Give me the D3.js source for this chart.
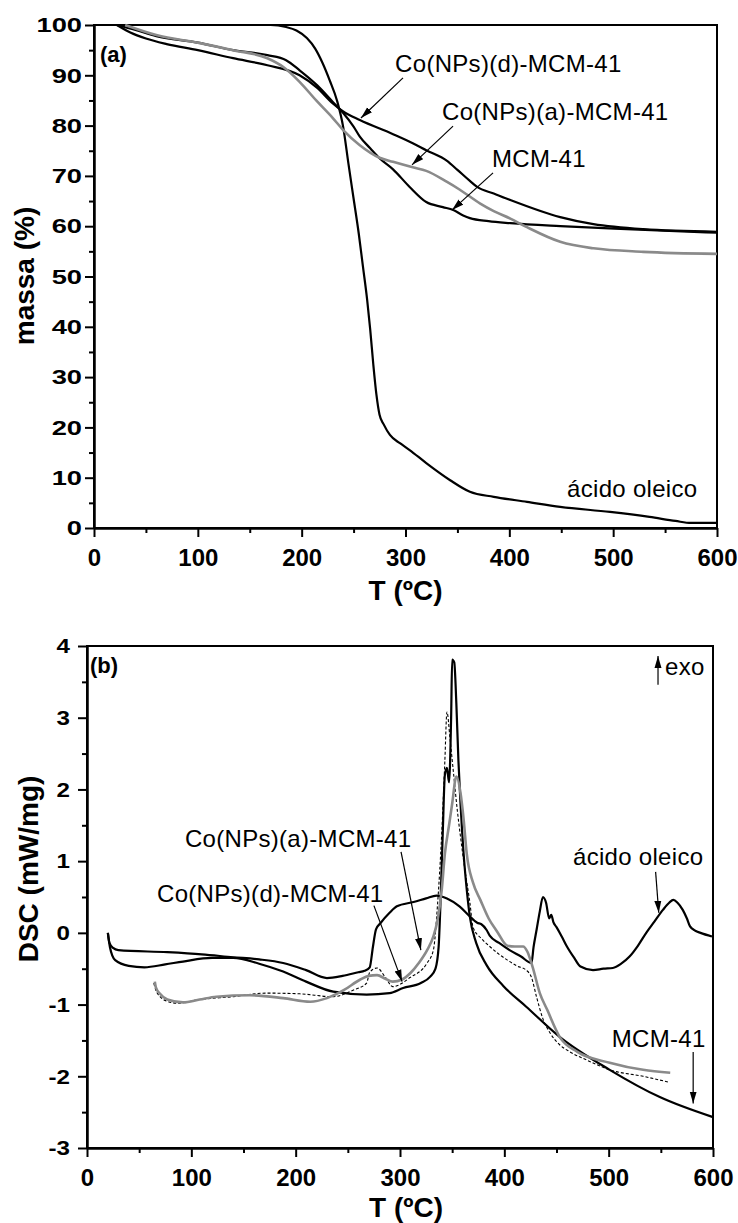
<!DOCTYPE html>
<html>
<head>
<meta charset="utf-8">
<script src="https://cdn.jsdelivr.net/npm/d3@7"></script>
<style>
  body { margin: 0; background: #fff; }
  text { font-family: "Liberation Sans", Arial, Helvetica, sans-serif; }
</style>
</head>
<body>
<svg id="fig" width="738" height="1223"></svg>
<script>
// ---------- (a) TGA: [T (°C), massa (%)] ----------
const tgaOleic = [[22,100],[60,100],[120,100],[170,100],[185,99.6],[195,98.9],[205,97.4],[213,95.3],[220,92.5],[227,89],[234,85],[240,79.7],[245,72.5],[250,65.5],[255,58.5],[259,52],[263,45.5],[266,39.5],[269,32.5],[272,26.5],[275,22.5],[279,20.6],[285,18.5],[295,16.8],[304,15.5],[320,12.9],[343,9.5],[362,7.2],[385,6.2],[417,5.2],[449,4.2],[497,3.2],[535,2.2],[560,1.4],[575,1.0],[600,1.0]];
const tgaMCM = [[22,100],[40,99],[60,97.8],[100,96.5],[134,95],[167,94],[185,93],[198,91],[215,88],[230,84.7],[240,82.5],[250,79.8],[256,77.8],[266,75.5],[275,73.5],[288,71.3],[304,67.8],[320,64.8],[336,63.8],[346,63.2],[355,62.2],[362,61.6],[380,61],[401,60.6],[449,60],[513,59.4],[600,58.7]];
const tgaCoD = [[22,100],[35,98.5],[50,97.3],[70,96.2],[100,95],[134,93.4],[167,92],[198,90],[215,87.5],[230,84.4],[240,82.8],[256,81.1],[288,78.3],[307,76.5],[320,75.1],[340,73],[350,71.2],[362,69],[369,67.8],[385,66.5],[401,65.2],[449,61.8],[481,60.4],[529,59.4],[600,58.9]];
const tgaCoA = [[30,100],[60,98],[102,96.4],[134,95],[167,93.4],[182,91.7],[198,88.7],[214,85],[230,81.5],[240,79.1],[256,76.1],[275,73.6],[288,72.8],[307,71.7],[320,71],[340,68.8],[352,67.3],[372,64.5],[385,63],[401,61.5],[417,59.8],[449,56.9],[481,55.6],[529,54.9],[600,54.5]];

// ---------- (b) DSC: [T (°C), DSC (mW/mg)] ----------
const dscOleic = [[20,0],[21.5,-0.14],[25,-0.21],[30,-0.24],[77,-0.27],[110,-0.3],[140,-0.34],[165,-0.37],[188,-0.42],[210,-0.52],[230,-0.63],[245,-0.6],[260,-0.55],[266,-0.53],[271,-0.48],[274,-0.2],[277,0.05],[281,0.13],[290,0.28],[297,0.37],[313,0.43],[325,0.48],[335,0.52],[345,0.48],[357,0.37],[367,0.23],[374,0.14],[378,0.12],[383,0.04],[386,-0.04],[395,-0.14],[405,-0.24],[416,-0.33],[426,-0.42],[428,-0.2],[431,0.05],[434,0.3],[437,0.5],[440,0.42],[443,0.2],[445,0.25],[447,0.15],[450,0.08],[455,-0.05],[460,-0.19],[467,-0.35],[473,-0.47],[485,-0.52],[495,-0.5],[504,-0.49],[512,-0.43],[520,-0.33],[528,-0.18],[536,0],[544,0.16],[552,0.32],[558,0.42],[562,0.46],[566,0.42],[571,0.32],[575,0.2],[578,0.09],[583,0.03],[588,0],[599,-0.05]];
const dscMCM = [[20,0],[22,-0.2],[27,-0.38],[40,-0.46],[55,-0.48],[75,-0.44],[92,-0.4],[120,-0.35],[140,-0.35],[165,-0.43],[188,-0.54],[210,-0.68],[236,-0.82],[268,-0.86],[290,-0.84],[303,-0.77],[320,-0.7],[329,-0.61],[334,-0.5],[337,-0.2],[339,0.5],[341,1.4],[343,2.2],[345,2.3],[347,2.1],[349,3.0],[350,3.81],[352,3.77],[354,3.2],[356,2.4],[358,1.8],[361,1.1],[364,0.6],[367,0.22],[373,-0.14],[383,-0.45],[399,-0.74],[421,-1.03],[453,-1.45],[501,-1.91],[549,-2.29],[600,-2.57]];
const dscCoA = [[65,-0.68],[66,-0.76],[70,-0.85],[77,-0.93],[92,-0.97],[108,-0.93],[124,-0.89],[156,-0.87],[188,-0.91],[214,-0.96],[230,-0.91],[246,-0.8],[262,-0.65],[270,-0.6],[278,-0.59],[286,-0.64],[293,-0.68],[302,-0.65],[310,-0.56],[318,-0.42],[326,-0.24],[332,-0.05],[336,0.18],[340,0.6],[343,1.1],[347,1.5],[350,1.8],[354,2.18],[358,1.95],[361,1.58],[364,1.1],[370,0.7],[377,0.46],[385,0.2],[393,0.02],[403,-0.18],[410,-0.19],[418,-0.19],[422,-0.26],[427,-0.47],[434,-0.84],[441,-1.07],[453,-1.45],[470,-1.66],[501,-1.81],[533,-1.91],[559,-1.95]];
const dscCoD = [[64,-0.7],[66,-0.8],[70,-0.89],[78,-0.96],[86,-0.98],[108,-0.93],[140,-0.89],[172,-0.84],[204,-0.85],[236,-0.89],[255,-0.8],[268,-0.7],[271,-0.55],[278,-0.49],[286,-0.62],[293,-0.75],[310,-0.62],[326,-0.42],[332,-0.24],[336,0.4],[340,1.39],[343,2.4],[345,3.08],[348,2.7],[351,2.27],[355,1.7],[358,1.34],[362,0.9],[367,0.42],[370,0.08],[378,-0.08],[386,-0.19],[395,-0.3],[403,-0.38],[412,-0.46],[421,-0.52],[426,-0.62],[431,-0.9],[437,-1.2],[444,-1.4],[453,-1.56],[463,-1.66],[480,-1.78],[501,-1.91],[533,-2.0],[557,-2.08]];

// ---------- axes ----------
const xTicks = [0, 100, 200, 300, 400, 500, 600];
const xMinor = [50, 150, 250, 350, 450, 550];
const tgaTicks = [0, 10, 20, 30, 40, 50, 60, 70, 80, 90, 100];
const tgaMinor = [5, 15, 25, 35, 45, 55, 65, 75, 85, 95];
const dscTicks = [-3, -2, -1, 0, 1, 2, 3, 4];
const dscMinor = [-2.5, -1.5, -0.5, 0.5, 1.5, 2.5, 3.5];

// ---------- annotations: label [T, y], arrow from [T, y] to [T, y] ----------
const tgaNotes = [
  { text: "Co(NPs)(d)-MCM-41", at: [290, 90.7], from: [297.6, 89.5], to: [257.1, 81.5] },
  { text: "Co(NPs)(a)-MCM-41", at: [335.2, 81.1], from: [345.8, 79.9], to: [306.3, 72.2] },
  { text: "MCM-41", at: [383.3, 71.8], from: [384.3, 70.6], to: [344.8, 63.2] },
  { text: "ácido oleico", at: [455.6, 6.2] }
];
const dscNotes = [
  { text: "Co(NPs)(a)-MCM-41", at: [93.9, 1.2], from: [301, 1.13], to: [320, -0.24] },
  { text: "Co(NPs)(d)-MCM-41", at: [67.1, 0.43], from: [275, 0.38], to: [302, -0.68] },
  { text: "ácido oleico", at: [465.8, 0.95], from: [545, 0.85], to: [548, 0.28] },
  { text: "MCM-41", at: [503, -1.59], from: [581, -1.66], to: [581, -2.38] },
  { text: "exo", at: [554, 3.6], from: [547.3, 3.46], to: [547.3, 3.86] }
];

const GRAY = "#8a8a8a";
const svg = d3.select("#fig");

const defs = svg.append("defs");
defs.append("marker")
  .attr("id", "head")
  .attr("viewBox", "0 0 12 8")
  .attr("refX", 12).attr("refY", 4)
  .attr("markerWidth", 12).attr("markerHeight", 8)
  .attr("markerUnits", "userSpaceOnUse")
  .attr("orient", "auto")
  .append("path").attr("d", "M0,0.5 L12,4 L0,7.5 Z").attr("fill", "#000");

function drawPanel(cfg) {
  const x = d3.scaleLinear().domain([0, 600]).range([cfg.left, cfg.right]);
  const y = d3.scaleLinear().domain(cfg.yDomain).range([cfg.bottom, cfg.top]);
  const g = svg.append("g");

  // frame
  g.append("rect")
    .attr("x", cfg.left).attr("y", cfg.top)
    .attr("width", cfg.right - cfg.left).attr("height", cfg.bottom - cfg.top)
    .attr("fill", "none").attr("stroke", "#000").attr("stroke-width", 2);

  // x axis
  const gx = g.append("g").attr("transform", `translate(0,${cfg.bottom})`)
    .call(d3.axisBottom(x).tickValues(xTicks).tickFormat(d3.format("d"))
      .tickSize(9).tickSizeOuter(0).tickPadding(12));
  gx.select(".domain").attr("stroke-width", 2.5);
  gx.selectAll(".tick line").attr("stroke-width", 2);
  gx.selectAll("text").attr("font-size", 24).attr("font-weight", "bold").attr("fill", "#000");
  const gxm = g.append("g").attr("transform", `translate(0,${cfg.bottom})`)
    .call(d3.axisBottom(x).tickValues(xMinor).tickFormat("").tickSize(5).tickSizeOuter(0));
  gxm.select(".domain").remove();
  gxm.selectAll(".tick line").attr("stroke-width", 2);

  // y axis (labels drawn slightly wide)
  const gy = g.append("g").attr("transform", `translate(${cfg.left},0)`)
    .call(d3.axisLeft(y).tickValues(cfg.yTicks).tickFormat(d => String(d))
      .tickSize(9).tickSizeOuter(0).tickPadding(cfg.yPad));
  gy.select(".domain").attr("stroke-width", 2.5);
  gy.selectAll(".tick line").attr("stroke-width", 2);
  gy.selectAll("text")
    .attr("font-size", 21).attr("font-weight", "bold").attr("fill", "#000")
    .attr("x", 0)
    .attr("transform", `translate(${-(9 + cfg.yPad)},0) scale(${cfg.yStretch},1)`);
  const gym = g.append("g").attr("transform", `translate(${cfg.left},0)`)
    .call(d3.axisLeft(y).tickValues(cfg.yMinor).tickFormat("").tickSize(5).tickSizeOuter(0));
  gym.select(".domain").remove();
  gym.selectAll(".tick line").attr("stroke-width", 2);

  // axis titles
  g.append("text")
    .attr("x", (cfg.left + cfg.right) / 2 + cfg.xTitleShift).attr("y", cfg.xTitleY)
    .attr("text-anchor", "middle").attr("font-size", 28).attr("font-weight", "bold")
    .text("T (ºC)");
  g.append("text")
    .attr("transform", `translate(${cfg.yTitleX},${cfg.yTitleY}) rotate(-90)`)
    .attr("text-anchor", "middle").attr("font-size", 28).attr("font-weight", "bold")
    .text(cfg.yTitle);

  // panel tag
  g.append("text")
    .attr("x", x(cfg.tag.at[0])).attr("y", y(cfg.tag.at[1]))
    .attr("font-size", 22).attr("font-weight", "bold")
    .text(cfg.tag.text);

  // curves
  const line = d3.line().x(d => x(d[0])).y(d => y(d[1])).curve(d3.curveMonotoneX);
  const plot = g.append("g");
  cfg.series.forEach(s => {
    plot.append("path")
      .datum(s.data)
      .attr("d", line)
      .attr("fill", "none")
      .attr("stroke", s.color)
      .attr("stroke-width", s.width)
      .attr("stroke-dasharray", s.dash || null)
      .attr("stroke-linejoin", "round");
  });

  // annotations
  cfg.notes.forEach(n => {
    g.append("text")
      .attr("x", x(n.at[0])).attr("y", y(n.at[1]))
      .attr("font-size", 24).attr("letter-spacing", 0.3).attr("fill", "#000")
      .text(n.text);
    if (n.from) {
      g.append("line")
        .attr("x1", x(n.from[0])).attr("y1", y(n.from[1]))
        .attr("x2", x(n.to[0])).attr("y2", y(n.to[1]))
        .attr("stroke", "#000").attr("stroke-width", 1.2)
        .attr("marker-end", "url(#head)");
    }
  });
}

drawPanel({
  left: 94, right: 717, top: 25, bottom: 528,
  yDomain: [0, 100], yTicks: tgaTicks, yMinor: tgaMinor,
  yPad: 3, yStretch: 1.3,
  xTitleY: 600, xTitleShift: 0,
  yTitleX: 34, yTitleY: 276, yTitle: "massa (%)",
  tag: { text: "(a)", at: [5.8, 92.6] },
  series: [
    { data: tgaOleic, color: "#000", width: 2.2 },
    { data: tgaMCM, color: "#000", width: 2.2 },
    { data: tgaCoD, color: "#000", width: 2.2 },
    { data: tgaCoA, color: GRAY, width: 2.6 }
  ],
  notes: tgaNotes
});

drawPanel({
  left: 87, right: 713, top: 646, bottom: 1148,
  yDomain: [-3, 4], yTicks: dscTicks, yMinor: dscMinor,
  yPad: 8, yStretch: 1.15,
  xTitleY: 1217, xTitleShift: 6,
  yTitleX: 38, yTitleY: 869, yTitle: "DSC (mW/mg)",
  tag: { text: "(b)", at: [2.9, 3.63] },
  series: [
    { data: dscOleic, color: "#000", width: 2.2 },
    { data: dscMCM, color: "#000", width: 2.2 },
    { data: dscCoD, color: "#000", width: 1.1, dash: "3,2" },
    { data: dscCoA, color: GRAY, width: 2.6 }
  ],
  notes: dscNotes
});
</script>
</body>
</html>
